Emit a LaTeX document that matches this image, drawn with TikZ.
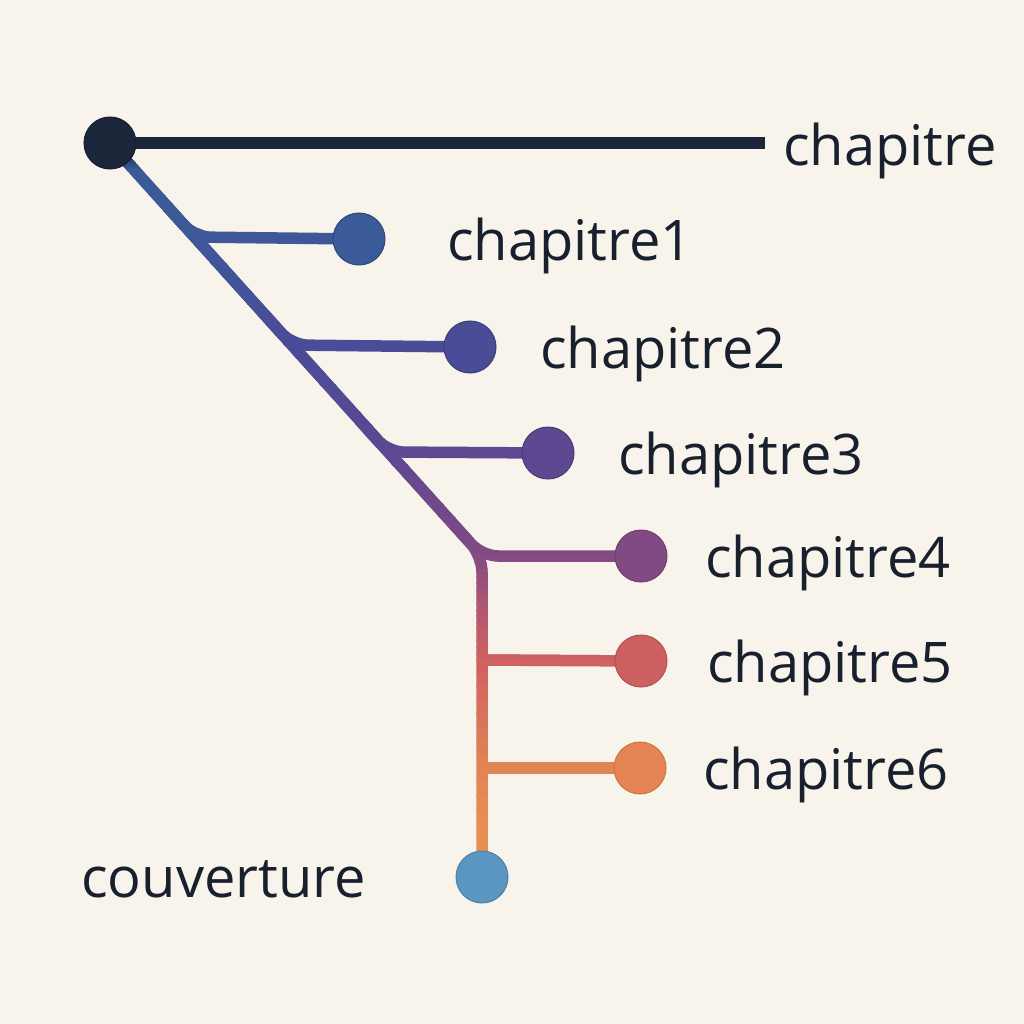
\documentclass[tikz,border=0pt]{standalone}
\usepackage{fontspec}
\setmainfont{Open Sans}
\definecolor{bg}{RGB}{248,244,236}
\definecolor{ink}{RGB}{24,32,46}
\definecolor{cnavy}{RGB}{28,38,58}
\definecolor{cblue}{RGB}{58,90,152}
\definecolor{cblueb}{RGB}{62,88,152}
\definecolor{cind}{RGB}{74,76,152}
\definecolor{cpur}{RGB}{92,72,145}
\definecolor{cmag}{RGB}{130,74,132}
\definecolor{cmid}{RGB}{178,88,112}
\definecolor{cred}{RGB}{206,96,98}
\definecolor{corg}{RGB}{226,132,84}
\definecolor{corgb}{RGB}{234,150,84}
\definecolor{ccov}{RGB}{90,150,194}
\begin{document}
\begin{tikzpicture}[x=1pt,y=-1pt,
  wire/.style={line width=11.5pt,rounded corners=16pt},
  dot/.style={circle,minimum size=52pt,inner sep=0pt,line width=1pt},
  lbl/.style={font=\fontsize{56}{64}\selectfont,text=ink,inner sep=0pt}]
\fill[bg] (0,0) rectangle (1024,1024);
\useasboundingbox (0,0) rectangle (1024,1024);
% junction points
\coordinate (top) at (110,143);
\coordinate (tend) at (765,143);
\coordinate (j1a) at (167.6,207);
\coordinate (j1) at (194.7,237);
\coordinate (j2a) at (265,315);
\coordinate (j2) at (292,345);
\coordinate (j3a) at (361,422);
\coordinate (j3) at (388,452);
\coordinate (j4) at (482,556);
\coordinate (j5) at (482,660);
\coordinate (j6) at (482,768);
\coordinate (bot) at (482,877);
% nodes
\node[dot] (n0) at (110,143) {};
\node[dot] (n1) at (359,239) {};
\node[dot] (n2) at (470,347) {};
\node[dot] (n3) at (548,453) {};
\node[dot] (n4) at (641,556) {};
\node[dot] (n5) at (641,661) {};
\node[dot] (n6) at (640,768) {};
\node[dot] (n7) at (482,877) {};
% gradient wires by horizontal bands
\foreach \ya/\yb/\ca/\cb in {100/150/cnavy/cnavy,150/170/cnavy/cblue,170/237/cblue/cblueb,237/345/cblueb/cind,345/452/cind/cpur,452/556/cpur/cmag,556/610/cmag/cmid,610/660/cmid/cred,660/768/cred/corg,768/880/corg/corgb}{
  \foreach \k in {0,...,7}{
    \pgfmathsetmacro\ylo{\ya+(\yb-\ya)*\k/8}
    \pgfmathsetmacro\yhi{\ya+(\yb-\ya)*(\k+1)/8}
    \pgfmathsetmacro\pct{100-100*(\k+0.5)/8}
    \begin{scope}
      \clip (0,\ylo-0.4) rectangle (1024,\yhi+0.4);
      \draw[wire,draw=\ca!\pct!\cb] (top) -- (j4) -- (bot);
      \draw[wire,draw=\ca!\pct!\cb] (top) -- (tend);
      \draw[wire,draw=\ca!\pct!\cb] (j1a) -- (j1) -- (n1.center);
      \draw[wire,draw=\ca!\pct!\cb] (j2a) -- (j2) -- (n2.center);
      \draw[wire,draw=\ca!\pct!\cb] (j3a) -- (j3) -- (n3.center);
      \draw[wire,draw=\ca!\pct!\cb] (top) -- (j4) -- (n4.center);
      \draw[wire,draw=\ca!\pct!\cb] (j5) -- (n5.center);
      \draw[wire,draw=\ca!\pct!\cb] (j6) -- (n6.center);
    \end{scope}
  }
}
% dots on top
\node[dot,fill=cnavy,draw=cnavy!80!black] at (n0) {};
\node[dot,fill=cblue,draw=cblue!80!black] at (n1) {};
\node[dot,fill=cind,draw=cind!80!black] at (n2) {};
\node[dot,fill=cpur,draw=cpur!80!black] at (n3) {};
\node[dot,fill=cmag,draw=cmag!85!black] at (n4) {};
\node[dot,fill=cred,draw=cred!85!black] at (n5) {};
\node[dot,fill=corg,draw=corg!90!black] at (n6) {};
\node[dot,fill=ccov,draw=ccov!85!black] at (n7) {};
% labels
\node[lbl,anchor=base west] (l0) at (783,166) {chapitre};
\node[lbl,anchor=base west] (l1) at (447,260) {chapitre1};
\node[lbl,anchor=base west] (l2) at (540,368) {chapitre2};
\node[lbl,anchor=base west] (l3) at (618,474) {chapitre3};
\node[lbl,anchor=base west] (l4) at (705,577) {chapitre4};
\node[lbl,anchor=base west] (l5) at (707,682) {chapitre5};
\node[lbl,anchor=base west] (l6) at (703,789) {chapitre6};
\node[lbl,anchor=base east] (l7) at (366,897) {couverture};
\end{tikzpicture}
\end{document}
